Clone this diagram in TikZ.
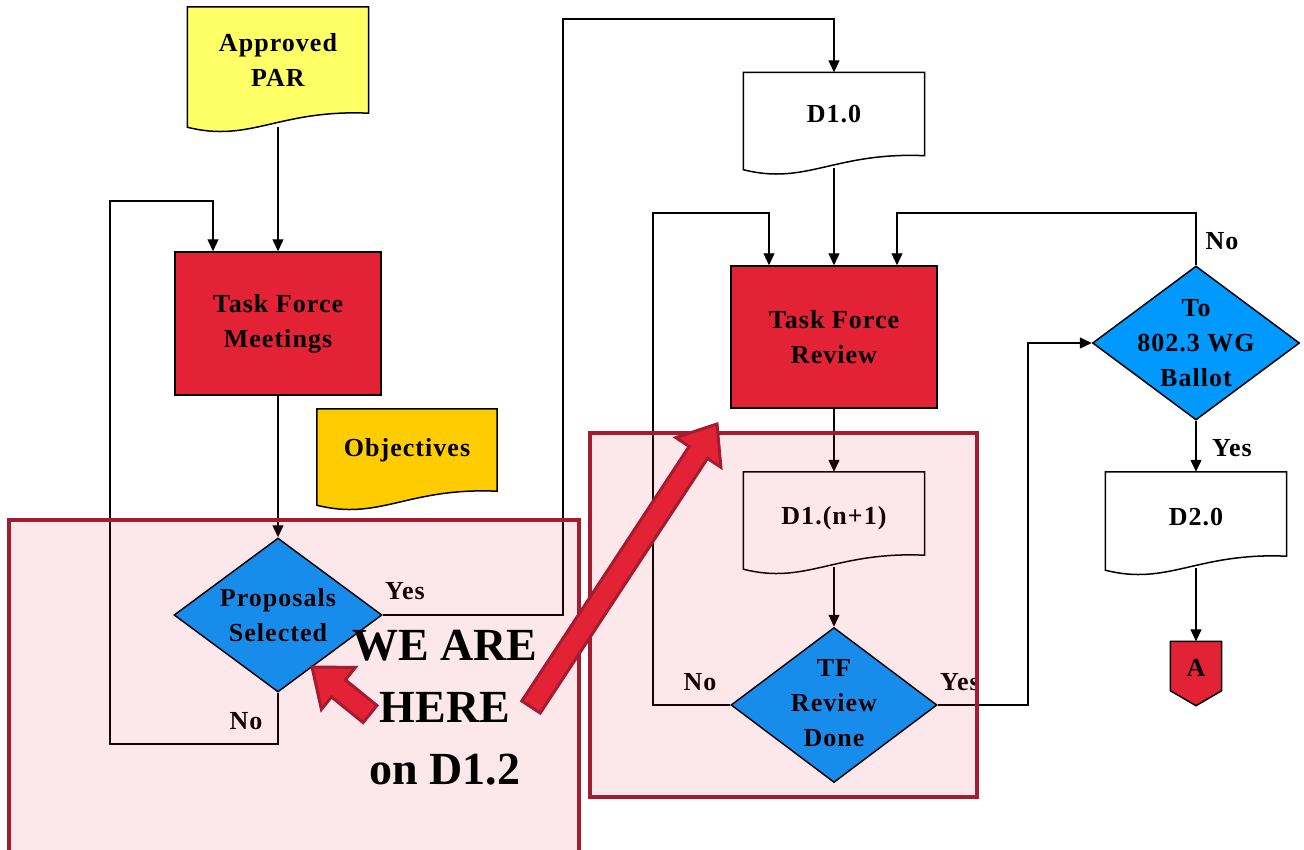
\documentclass[tikz,border=0pt]{standalone}
\usepackage{fontspec}
\setmainfont{Liberation Serif}[LetterSpace=4]
\newfontfamily\bigfont{Liberation Serif}
\usetikzlibrary{shapes.geometric,calc,arrows.meta}
\pgfdeclarelayer{background}
\pgfsetlayers{background,main}
\definecolor{tfred}{RGB}{227,34,54}
\definecolor{darkred}{RGB}{165,28,48}
\definecolor{parY}{RGB}{255,255,102}
\definecolor{objY}{RGB}{255,204,0}
\definecolor{dblue}{RGB}{0,153,255}
\newcommand\docoutline[2]{%
  \draw[line width=1.5pt, fill=#2] (#1.north west) -- (#1.north east) -- (#1.south east)
    .. controls ($(#1.south east)+(-90,-4)$) and ($(#1.south west)+(63,30)$) .. ($(#1.south west)+(0,14)$) -- cycle;}
\newcommand\blkarrow[2]{%
  \coordinate (#2b) at ($(#2)!34pt!(#1)$);
  \draw[blockarrow] ($(#1)!11pt!90:(#2)$) -- ($(#2b)!11pt!90:(#2)$) -- ($(#2b)!27pt!90:(#2)$) -- (#2)
    -- ($(#2b)!27pt!-90:(#2)$) -- ($(#2b)!11pt!-90:(#2)$) -- ($(#1)!11pt!-90:(#2)$) -- cycle;}
\newcommand\lowr[2]{\raisebox{-#1}[\height][\depth]{#2}}
\begin{document}
\begin{tikzpicture}[x=1pt,y=-1pt,
  lbl/.style={font=\fontsize{26}{35}\selectfont\bfseries, align=center, inner sep=0pt},
  procbox/.style={lbl, draw=black, line width=1.5pt, fill=tfred, minimum width=206pt, minimum height=143pt},
  docnode/.style={lbl, minimum width=181pt},
  dia/.style={diamond, draw=black, line width=1.5pt, fill=dblue, minimum width=207pt, minimum height=154pt, inner sep=0pt},
  conn/.style={line width=1.3pt, -{Triangle[length=12pt,width=11pt]}},
  hl/.style={draw=darkred, line width=4pt, fill=tfred, fill opacity=0.1},
  blockarrow/.style={draw=darkred, fill=tfred, line width=3pt, line join=miter},
  bigtxt/.style={font=\bigfont\fontsize{46}{62}\selectfont\bfseries, align=center, inner sep=0pt}]
\useasboundingbox (0,0) rectangle (1304,849);

% documents
\node[docnode, minimum height=106pt] (par) at (278,60) {Approved\\PAR};
\node[docnode, minimum width=180pt, minimum height=82pt] (obj) at (407,450) {Objectives};
\node[docnode, minimum height=83pt] (d10) at (834,114) {D1.0};
\node[docnode, minimum height=83pt] (d1n) at (834,513.5) {\lowr{5pt}{D1.(n+1)}};
\node[docnode, minimum height=84pt] (d20) at (1196,514) {\lowr{3pt}{D2.0}};
\node[lbl, minimum width=51pt, minimum height=49pt] (A) at (1196,666) {\lowr{2pt}{A}};
\begin{pgfonlayer}{background}
  \docoutline{par}{parY}
  \docoutline{obj}{objY}
  \docoutline{d10}{white}
  \docoutline{d1n}{white}
  \docoutline{d20}{white}
  \draw[line width=1.5pt, fill=tfred] (A.north west) -- (A.north east) -- (A.south east)
    -- ($(A.south)+(0,15)$) -- (A.south west) -- cycle;
\end{pgfonlayer}

% process boxes
\node[procbox] (tfm) at (278,323.5) {Task Force\\Meetings};
\node[procbox, minimum height=142pt] (tfr) at (834,337) {Task Force\\Review};

% decisions
\node[dia, minimum width=208pt] (ps) at (278,615) {};
\node[lbl] at (ps) {Proposals\\Selected};
\node[dia, minimum width=206pt, minimum height=155pt] (tfd) at (834,705) {};
\node[lbl] at ($(tfd)+(0,-2)$) {TF\\Review\\Done};
\node[dia] (ballot) at (1196,343) {};
\node[lbl] at (ballot) {To\\802.3 WG\\Ballot};

% waypoints
\coordinate (w1) at (110,744);
\coordinate (w2) at (213,201);
\coordinate (w3) at (563,19);
\coordinate (w4) at (653,213);
\coordinate (w5) at (769,213);
\coordinate (w6) at (1028,343);
\coordinate (w7) at (897,213);

% connectors
\draw[conn] ($(par.south)+(0,14)$) -- (tfm.north);
\draw[conn] (tfm.south) -- (ps.north);
\draw[conn] (ps.south) |- (w1) |- (w2) -- (w2 |- tfm.north);
\draw[conn] (ps.east) -| (w3) -| (d10.north);
\draw[conn] ($(d10.south)+(0,12)$) -- (tfr.north);
\draw[conn] (tfr.south) -- (d1n.north);
\draw[conn] ($(d1n.south)+(0,12)$) -- (tfd.north);
\draw[conn] (tfd.west) -| (w4) -- (w5) -- (w5 |- tfr.north);
\draw[conn] (tfd.east) -| (w6) -- (ballot.west);
\draw[conn] (ballot.north) |- (w7) -- (w7 |- tfr.north);
\draw[conn] (ballot.south) -- (d20.north);
\draw[conn] ($(d20.south)+(0,12)$) -- (A.north);

% labels
\node[lbl] (y1) at (405,591) {Yes};
\node[lbl] (n1) at (246,721) {No};
\node[lbl] (n2) at (700,682) {No};
\node[lbl] (y2) at (960,682) {Yes};
\node[lbl] (n3) at (1222,241) {No};
\node[lbl] (y3) at (1232,448) {Yes};

% highlight boxes
\draw[hl] (9,520) rectangle (579,880);
\draw[hl] (590,433) rectangle (977,797);

% block arrows
\coordinate (t1) at (370,714);
\coordinate (p1) at (312,667);
\blkarrow{t1}{p1}
\coordinate (t2) at (531,707);
\coordinate (p2) at (717,424);
\blkarrow{t2}{p2}

\node[bigtxt] (here) at (445,708) {WE ARE\\HERE\\on D1.2};
\end{tikzpicture}
\end{document}
